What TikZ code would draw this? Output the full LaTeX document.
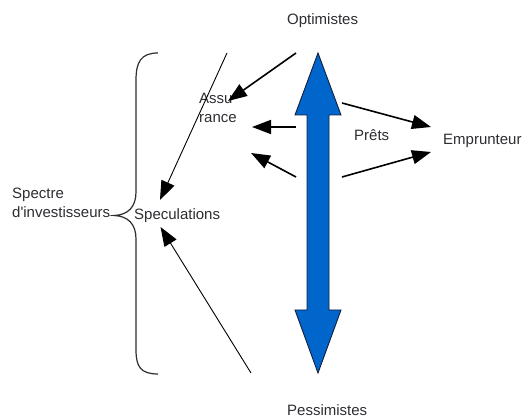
\documentclass[tikz,border=0pt]{standalone}
\usepackage{fontspec}
\setmainfont{Liberation Sans}[Ligatures=TeXOff]
\usetikzlibrary{arrows.meta}
\definecolor{txt}{RGB}{45,45,50}
\definecolor{spectrumblue}{RGB}{0,102,204}
\definecolor{spectrumedge}{RGB}{20,30,60}
\begin{document}
\begin{tikzpicture}[x=1pt,y=-1pt,
  label/.style={font=\fontsize{15}{19}\selectfont, text=txt, inner sep=0pt, anchor=base west, align=left},
  flow/.style={-{Triangle[length=19pt,width=14pt]}, line width=1.6pt, black},
  thinflow/.style={-{Triangle[length=19pt,width=14pt]}, line width=0.9pt, black},
  bracestyle/.style={line width=1.2pt, txt}
]
\useasboundingbox (0,0) rectangle (528,419);

% labels
\node[label] (opt) at (287,25) {Optimistes};
\node[label] (pess) at (287,416) {Pessimistes};
\node[label] (spectre) at (12,218) {Spectre\\d'investisseurs};
\node[label] (spec) at (134,220) {Speculations};
\node[label] (assu) at (199,123) {Assu\\rance};
\node[label] (prets) at (354,141) {Prêts};
\node[label] (empr) at (443,145) {Emprunteur};

% curly brace grouping the spectrum
\draw[bracestyle] (158,53) .. controls (141,53) and (136,62) .. (136,80)
  -- (136,192) .. controls (136,207) and (128,215) .. (114,215.5)
  .. controls (128,216) and (136,224) .. (136,239)
  -- (136,350) .. controls (136,367) and (141,374) .. (158,374);

% blue double-headed spectrum arrow
\draw[fill=spectrumblue, draw=spectrumedge, line width=0.9pt, line join=miter]
  (318,53) -- (341,115) -- (329,115) -- (329,310) -- (341,310) -- (318,373)
  -- (295,310) -- (307,310) -- (307,115) -- (295,115) -- cycle;

% connector end points
\coordinate (s1) at (227,53);
\coordinate (s1t) at (160,200);
\coordinate (s2) at (251,373);
\coordinate (s2t) at (160.5,227);
\coordinate (a1) at (296,53);
\coordinate (a1t) at (228,101);
\coordinate (a2) at (296,127);
\coordinate (a2t) at (252,127);
\coordinate (a3) at (296,177);
\coordinate (a3t) at (251,153);
\coordinate (e1) at (342,103);
\coordinate (e1t) at (431,127);
\coordinate (e2) at (342,177);
\coordinate (e2t) at (431,152);

\draw[thinflow] (s1) -- (s1t);
\draw[thinflow] (s2) -- (s2t);
\draw[flow] (a1) -- (a1t);
\draw[flow] (a2) -- (a2t);
\draw[flow] (a3) -- (a3t);
\draw[flow] (e1) -- (e1t);
\draw[flow] (e2) -- (e2t);
\end{tikzpicture}
\end{document}
